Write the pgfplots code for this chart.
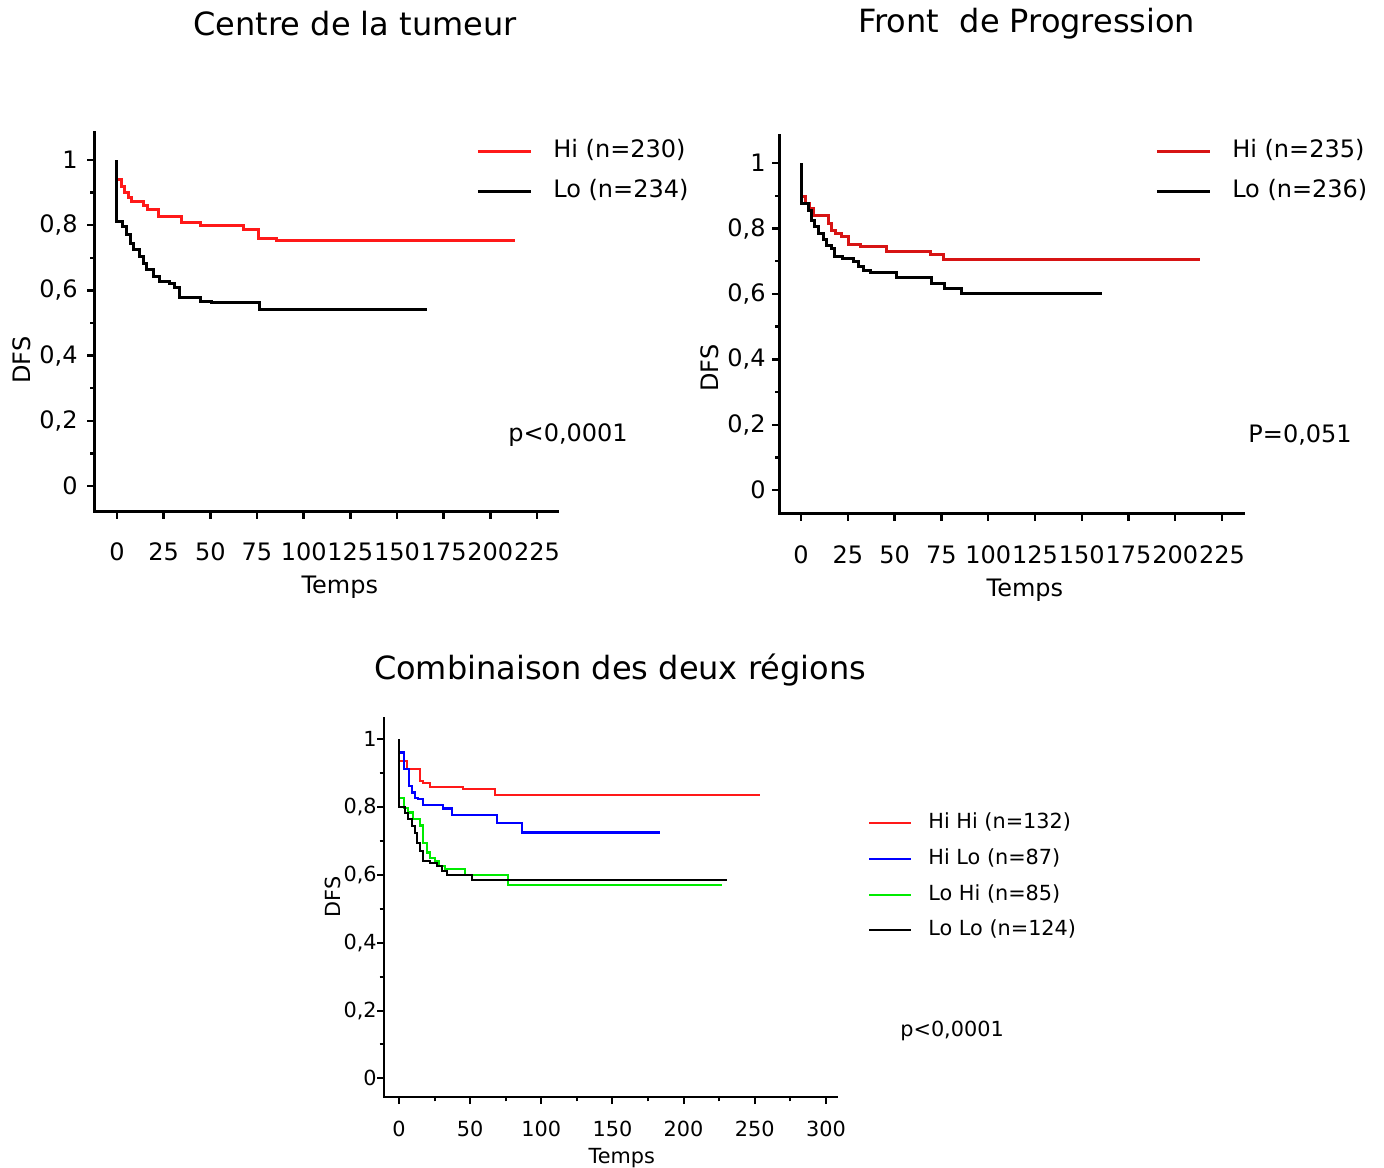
\documentclass[border=0pt]{standalone}
\usepackage{fontspec}
\setmainfont{DejaVu Sans}
\usepackage{pgfplots}
\pgfplotsset{compat=1.18}
\definecolor{kmred}{RGB}{255,25,25}
\definecolor{kmredb}{RGB}{215,20,20}
\definecolor{kmblue}{RGB}{0,0,255}
\definecolor{kmgreen}{RGB}{0,235,0}
\newcommand{\fA}{\fontsize{12bp}{14bp}\selectfont}
\newcommand{\fT}{\fontsize{16bp}{19bp}\selectfont}
\newcommand{\fB}{\fontsize{10.4bp}{12bp}\selectfont}
\pgfplotsset{
  every axis title shift=0pt,
  km/.style={
    scale only axis,
    axis lines*=left,
    axis line style={line width=1.5bp, line cap=rect},
    tick align=outside,
    major tick length=3.5bp,
    minor tick length=1.8bp,
    tick style={black, line width=1.2bp},
    clip=false,
    /pgf/number format/use comma,
    /pgf/number format/assume math mode=true,
    ytick={0,0.2,0.4,0.6,0.8,1},
    minor ytick={0.1,0.3,0.5,0.7,0.9},
    every axis plot/.append style={const plot, no markers, line width=1.5bp},
    legend cell align=left,
  }
}
\begin{document}
\begin{tikzpicture}
\path[use as bounding box] (0bp,0bp) rectangle (692bp,584bp);

% ---------------- Centre de la tumeur ----------------
\begin{axis}[km, at={(47bp,328bp)}, anchor=south west,
  width=231.5bp, height=189.5bp,
  xmin=-12.3, xmax=235.7, ymin=-0.080, ymax=1.083,
  xtick={0,25,50,75,100,125,150,175,200,225},
  ticklabel style={font=\fA, inner sep=0pt},
  xticklabel style={anchor=center, yshift=-16.5bp},
  yticklabel style={anchor=east, xshift=-4.5bp},
  xlabel={Temps}, ylabel={DFS},
  xlabel style={at={(axis description cs:0.531,-0.199)}, anchor=center, font=\fA},
  ylabel style={at={(axis description cs:-0.1555,0.401)}, anchor=center, font=\fA},
  title={Centre de la tumeur},
  title style={at={(axis description cs:0.564,1.288)}, anchor=center, font=\fT},
  legend style={at={(0.825,0.899)}, anchor=west, draw=none, fill=none, font=\fA,
    row sep=9bp, inner sep=0pt,
    nodes={inner sep=0pt, text height=8.8bp, text depth=2.2bp},
    /tikz/every odd column/.append style={column sep=10.5bp}},
  legend image code/.code={\draw[#1] (0bp,0bp) -- (26.5bp,0bp);},
]
\addplot[kmred] coordinates {
(0,1) (0,0.939) (2.5,0.92) (4,0.90) (6,0.885) (8,0.872) (14.3,0.86) (16.6,0.847)
(22,0.827) (34.6,0.808) (44.5,0.799) (67.7,0.788) (75.7,0.760) (85.5,0.752) (213,0.752)};
\addlegendentry{Hi (n=230)}
\addplot[black] coordinates {
(0,1) (0,0.811) (3,0.796) (5,0.77) (7,0.745) (9,0.725) (12,0.704) (14,0.684)
(16,0.664) (19.5,0.643) (23,0.628) (28.4,0.621) (31,0.608) (33.7,0.577)
(44.5,0.567) (50.7,0.562) (76.6,0.541) (165.9,0.541)};
\addlegendentry{Lo (n=234)}
\node[font=\fA, anchor=center] at (axis description cs:1.024,0.203) {p<0,0001};
\end{axis}

% ---------------- Front de Progression ----------------
\begin{axis}[km, at={(389.5bp,327bp)}, anchor=south west,
  width=232bp, height=189bp,
  xmin=-11.8, xmax=236.2, ymin=-0.073, ymax=1.083,
  xtick={0,25,50,75,100,125,150,175,200,225},
  ticklabel style={font=\fA, inner sep=0pt},
  xticklabel style={anchor=center, yshift=-17bp},
  yticklabel style={anchor=east, xshift=-3bp},
  xlabel={Temps}, ylabel={DFS},
  xlabel style={at={(axis description cs:0.530,-0.201)}, anchor=center, font=\fA},
  ylabel style={at={(axis description cs:-0.149,0.386)}, anchor=center, font=\fA},
  title={Front\ \ de Progression},
  title style={at={(axis description cs:0.534,1.296)}, anchor=center, font=\fT},
  legend style={at={(0.810,0.907)}, anchor=west, draw=none, fill=none, font=\fA,
    row sep=9bp, inner sep=0pt,
    nodes={inner sep=0pt, text height=8.8bp, text depth=2.2bp},
    /tikz/every odd column/.append style={column sep=10.5bp}},
  legend image code/.code={\draw[#1] (0bp,0bp) -- (26.5bp,0bp);},
]
\addplot[kmredb] coordinates {
(0,1) (0,0.899) (2.1,0.877) (4.5,0.861) (6.6,0.841) (14.6,0.815) (16.4,0.795)
(18.2,0.785) (21.6,0.775) (25.3,0.752) (31.5,0.746) (45.8,0.729) (69,0.722)
(76,0.705) (213.3,0.705)};
\addlegendentry{Hi (n=235)}
\addplot[black] coordinates {
(0,1) (0,0.877) (3.9,0.856) (5.6,0.826) (7.4,0.805) (9.2,0.785) (11.9,0.765)
(13.7,0.749) (16.3,0.739) (18.1,0.713) (22,0.709) (28,0.698) (30.6,0.683)
(33.3,0.673) (36.9,0.665) (51.1,0.649) (69.8,0.632) (76.9,0.617) (85.9,0.602)
(160.7,0.602)};
\addlegendentry{Lo (n=236)}
\node[font=\fA, anchor=center] at (axis description cs:1.123,0.209) {P=0,051};
\end{axis}

% ---------------- Combinaison des deux regions ----------------
\begin{axis}[km, at={(192bp,35.5bp)}, anchor=south west,
  width=226.5bp, height=189.5bp,
  axis line style={line width=1.2bp, line cap=rect},
  tick style={black, line width=1bp},
  minor tick length=2.2bp,
  xmin=-10.5, xmax=307.8, ymin=-0.055, ymax=1.063,
  xtick={0,50,100,150,200,250,300},
  minor xtick={25,75,125,175,225,275},
  ticklabel style={font=\fB, inner sep=0pt},
  xticklabel style={anchor=center, yshift=-12.5bp},
  yticklabel style={anchor=east, xshift=0bp},
  every axis plot/.append style={line width=1.1bp},
  xlabel={Temps}, ylabel={DFS},
  xlabel style={at={(axis description cs:0.525,-0.160)}, anchor=center, font=\fB},
  ylabel style={at={(axis description cs:-0.113,0.528)}, anchor=center, font=\fB},
  title={Combinaison des deux régions},
  title style={at={(axis description cs:0.521,1.127)}, anchor=center, font=\fT},
  legend style={at={(1.068,0.581)}, anchor=west, draw=none, fill=none, font=\fB,
    row sep=8.45bp, inner sep=0pt,
    nodes={inner sep=0pt, text height=7.5bp, text depth=1.9bp},
    /tikz/every odd column/.append style={column sep=8bp}},
  legend image code/.code={\draw[#1] (0bp,0bp) -- (21bp,0bp);},
]
\addplot[kmred] coordinates {
(0,1) (0,0.936) (5.4,0.912) (14.8,0.877) (17.1,0.872) (21.8,0.859) (45.2,0.853)
(67.5,0.836) (253.7,0.836)};
\addlegendentry{Hi Hi (n=132)}
\addplot[kmblue] coordinates {
(0,1) (0,0.961) (3.5,0.912) (7.3,0.862) (8.9,0.843) (11.2,0.828) (13.6,0.823)
(17.1,0.806) (31.1,0.796) (37,0.777) (68.7,0.754) (86.2,0.725) (183.4,0.725)};
\addlegendentry{Hi Lo (n=87)}
\addplot[kmgreen] coordinates {
(0,1) (0,0.828) (3.5,0.798) (6.5,0.784) (10,0.764) (14.8,0.746) (17.1,0.695)
(19.5,0.666) (21.8,0.651) (25.3,0.641) (28,0.626) (32.3,0.617) (46.4,0.600)
(76.8,0.570) (226.8,0.570)};
\addlegendentry{Lo Hi (n=85)}
\addplot[black, line width=1bp] coordinates {
(0,1) (0,0.801) (4.2,0.784) (6.5,0.764) (8.9,0.744) (11.2,0.725) (12.4,0.695)
(14.8,0.671) (17.1,0.641) (22,0.636) (26.5,0.626) (30,0.611) (33.5,0.599)
(51.1,0.585) (230.3,0.585)};
\addlegendentry{Lo Lo (n=124)}
\node[font=\fB, anchor=center] at (axis description cs:1.254,0.174) {p<0,0001};
\end{axis}
\end{tikzpicture}
\end{document}
